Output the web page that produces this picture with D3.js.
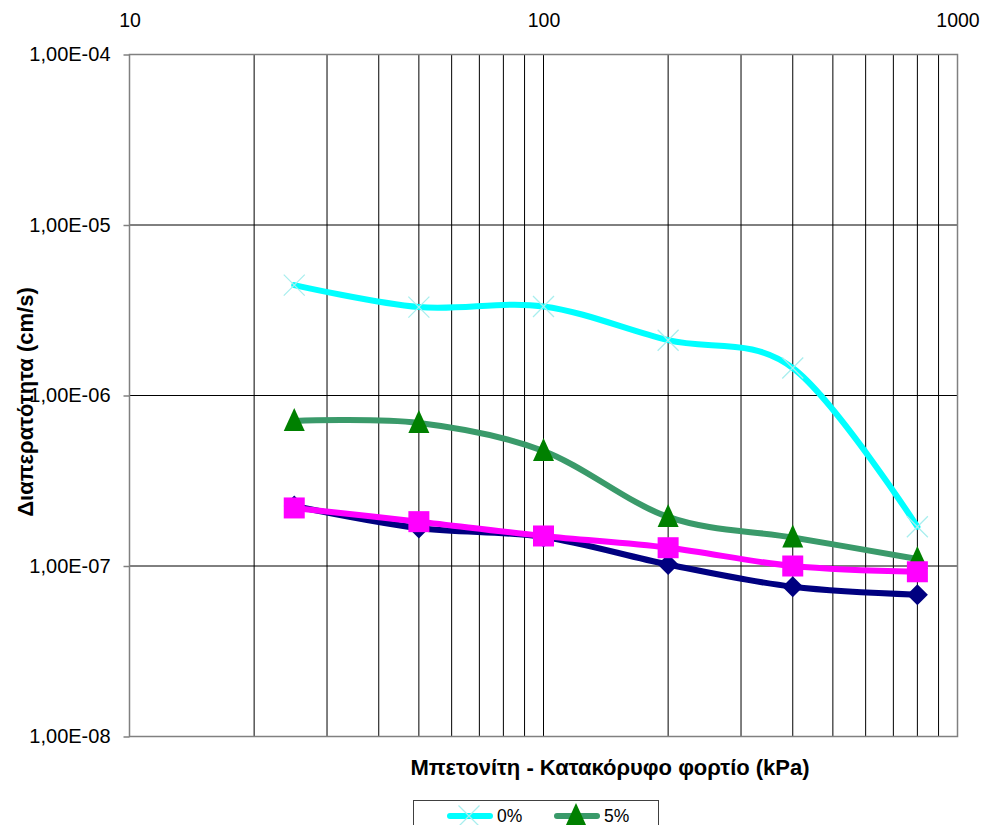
<!DOCTYPE html>
<html>
<head>
<meta charset="utf-8">
<script src="https://cdn.jsdelivr.net/npm/d3@7"></script>
<style>
  html, body { margin: 0; padding: 0; background: #fff; }
  svg { display: block; font-family: "Liberation Sans", Arial, sans-serif; }
</style>
</head>
<body>
<svg id="chart" width="988" height="825"></svg>
<script>
// Vertical load steps (kPa)
const loads = [25, 50, 100, 200, 400, 800];

// Permeability (cm/s) per bentonite content
const k0 = [4.44e-6, 3.30e-6, 3.33e-6, 2.11e-6, 1.45e-6, 1.70e-7];
const k5 = [7.09e-7, 6.90e-7, 4.73e-7, 1.94e-7, 1.47e-7, 1.10e-7];
const kNavy = [2.25e-7, 1.67e-7, 1.48e-7, 1.02e-7, 7.55e-8, 6.79e-8];
const kMagenta = [2.19e-7, 1.82e-7, 1.50e-7, 1.28e-7, 1.00e-7, 9.25e-8];

const xTickValues = [10, 100, 1000];
const xTickLabels = ["10", "100", "1000"];
const yTickValues = [1e-8, 1e-7, 1e-6, 1e-5, 1e-4];
const yTickLabels = ["1,00E-08", "1,00E-07", "1,00E-06", "1,00E-05", "1,00E-04"];

const legendLabels = ["0%", "5%"];

const svg = d3.select("#chart");
const plot = { left: 129.5, right: 957.5, top: 54.5, bottom: 736.5 };

const x = d3.scaleLog().domain([10, 1000]).range([plot.left, plot.right]);
const y = d3.scaleLog().domain([1e-8, 1e-4]).range([plot.bottom, plot.top]);

// Vertical grid: every integer step in each decade
const xGrid = [];
for (let d = 10; d < 1000; d *= 10) {
  for (let m = 1; m <= 9; m++) xGrid.push(d * m);
}
xGrid.push(1000);

const grid = svg.append("g");
grid.selectAll("line.vx")
  .data(xGrid)
  .join("line")
  .attr("x1", d => x(d)).attr("x2", d => x(d))
  .attr("y1", plot.top).attr("y2", plot.bottom)
  .attr("stroke", "#000").attr("stroke-width", 1);

grid.selectAll("line.hy")
  .data(yTickValues)
  .join("line")
  .attr("x1", plot.left).attr("x2", plot.right)
  .attr("y1", d => y(d)).attr("y2", d => y(d))
  .attr("stroke", "#000").attr("stroke-width", 1);

// Plot border
svg.append("rect")
  .attr("x", plot.left).attr("y", plot.top)
  .attr("width", plot.right - plot.left).attr("height", plot.bottom - plot.top)
  .attr("fill", "none").attr("stroke", "#808080").attr("stroke-width", 1.5);

// Y axis (left) with tick labels
const yAxis = d3.axisLeft(y)
  .tickValues(yTickValues)
  .tickFormat((d, i) => yTickLabels[i])
  .tickSize(6)
  .tickSizeOuter(0)
  .tickPadding(13);
const gy = svg.append("g").attr("transform", `translate(${plot.left},0)`).call(yAxis);
gy.select(".domain").remove();
gy.selectAll(".tick line").attr("stroke", "#808080").attr("stroke-width", 1.5);
gy.selectAll(".tick text")
  .attr("font-size", 20).attr("fill", "#000")
  .style("font-family", "'Liberation Sans', Arial, sans-serif");

// X axis (top) labels
const xAxis = d3.axisTop(x)
  .tickValues(xTickValues)
  .tickFormat((d, i) => xTickLabels[i])
  .tickSize(0)
  .tickPadding(0);
const gx = svg.append("g").attr("transform", "translate(0,27)").call(xAxis);
gx.select(".domain").remove();
gx.selectAll(".tick text")
  .attr("font-size", 19.5).attr("fill", "#000").attr("dy", 0)
  .style("font-family", "'Liberation Sans', Arial, sans-serif");

// Axis titles
svg.append("text")
  .attr("x", 610).attr("y", 775)
  .attr("text-anchor", "middle")
  .attr("font-size", 22).attr("font-weight", "bold")
  .text("Μπετονίτη - Κατακόρυφο φορτίο (kPa)");

svg.append("text")
  .attr("transform", "translate(33,402) rotate(-90)")
  .attr("text-anchor", "middle")
  .attr("font-size", 22).attr("font-weight", "bold")
  .text("Διαπερατότητα (cm/s)");

// Series
const series = [
  { values: k0, line: "#00ffff", marker: "x", markerColor: "#a8eeee" },
  { values: k5, line: "#3a9a6a", marker: "triangle", markerColor: "#008000" },
  { values: kNavy, line: "#000080", marker: "diamond", markerColor: "#000080" },
  { values: kMagenta, line: "#ff00ff", marker: "square", markerColor: "#ff00ff" }
];

const lineGen = d3.line()
  .x(d => x(d[0]))
  .y(d => y(d[1]))
  .curve(d3.curveCatmullRom.alpha(0));

function drawMarker(g, type, color, cx, cy) {
  if (type === "x") {
    const r = 10.5;
    g.append("path")
      .attr("d", `M${cx - r},${cy - r}L${cx + r},${cy + r}M${cx - r},${cy + r}L${cx + r},${cy - r}`)
      .attr("stroke", color).attr("stroke-width", 1.3).attr("fill", "none");
  } else if (type === "triangle") {
    g.append("path")
      .attr("d", `M${cx},${cy - 13}L${cx + 10.5},${cy + 10}L${cx - 10.5},${cy + 10}Z`)
      .attr("fill", color);
  } else if (type === "diamond") {
    const r = 10.5;
    g.append("path")
      .attr("d", `M${cx},${cy - r}L${cx + r},${cy}L${cx},${cy + r}L${cx - r},${cy}Z`)
      .attr("fill", color);
  } else if (type === "square") {
    g.append("rect")
      .attr("x", cx - 10.5).attr("y", cy - 10.5)
      .attr("width", 21).attr("height", 21)
      .attr("fill", color);
  }
}

series.forEach(s => {
  const pts = loads.map((l, i) => [l, s.values[i]]);
  const g = svg.append("g");
  g.append("path")
    .attr("d", lineGen(pts))
    .attr("fill", "none")
    .attr("stroke", s.line)
    .attr("stroke-width", 6)
    .attr("stroke-linejoin", "round")
    .attr("stroke-linecap", "round");
  pts.forEach(p => drawMarker(g, s.marker, s.markerColor, x(p[0]), y(p[1])));
});

// Legend (first row)
const legend = svg.append("g");
legend.append("rect")
  .attr("x", 413.5).attr("y", 800.5)
  .attr("width", 245).attr("height", 60)
  .attr("fill", "#fff").attr("stroke", "#404040").attr("stroke-width", 1);

const legendItems = [
  { label: legendLabels[0], s: series[0], x0: 447 },
  { label: legendLabels[1], s: series[1], x0: 554 }
];
legendItems.forEach(item => {
  const ly = 816;
  legend.append("line")
    .attr("x1", item.x0 + 3).attr("x2", item.x0 + 43)
    .attr("y1", ly).attr("y2", ly)
    .attr("stroke", item.s.line).attr("stroke-width", 6)
    .attr("stroke-linecap", "round");
  drawMarker(legend, item.s.marker, item.s.markerColor, item.x0 + 22, ly);
  legend.append("text")
    .attr("x", item.x0 + 50).attr("y", 821.5)
    .attr("font-size", 17.5)
    .text(item.label);
});
</script>
</body>
</html>
